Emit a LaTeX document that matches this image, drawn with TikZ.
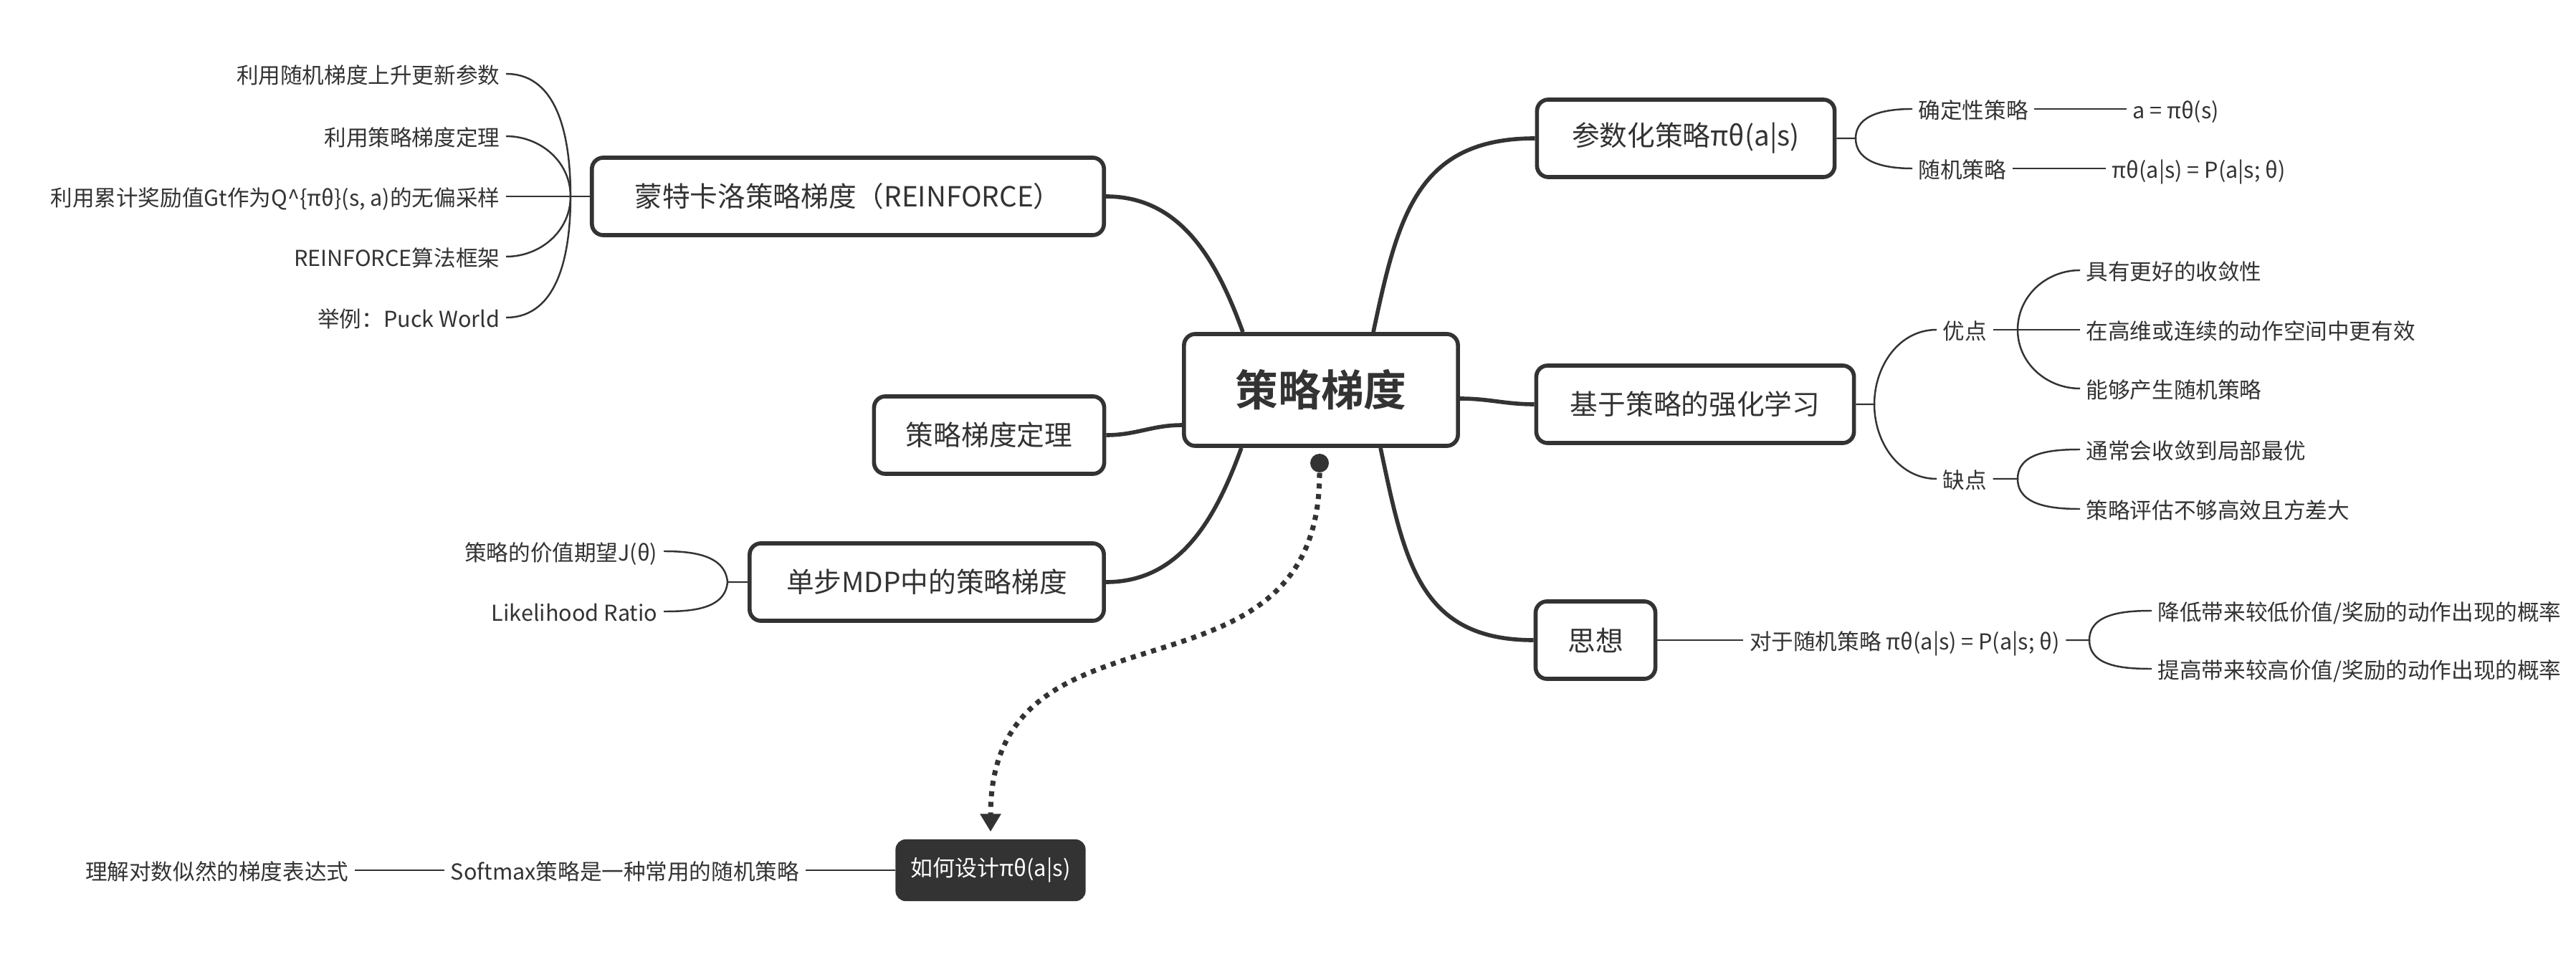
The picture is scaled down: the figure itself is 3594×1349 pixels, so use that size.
\documentclass[tikz,border=0pt]{standalone}
\usepackage{fontspec}
\setmainfont{Noto Sans CJK SC}[BoldFont={Noto Sans CJK SC Bold}]
\usepackage{tikz}
\usetikzlibrary{arrows.meta, positioning, calc}
\definecolor{ink}{HTML}{333333}

\begin{document}
\begin{tikzpicture}[x=0.01cm, y=0.01cm,
    root/.style={rectangle, draw=ink, fill=white, line width=1.6pt, rounded corners=4.5pt, minimum width=3.82cm, minimum height=1.56cm, font=\fontsize{17}{20}\selectfont\bfseries, text=ink},
    topic/.style={rectangle, draw=ink, fill=white, line width=1.6pt, rounded corners=4.5pt, minimum height=1.08cm, font=\fontsize{11}{13}\selectfont, text=ink},
    darktopic/.style={rectangle, fill=ink, rounded corners=4pt, minimum width=2.65cm, minimum height=0.86cm, font=\fontsize{8.8}{11}\selectfont, text=white},
    leaf/.style={inner xsep=0.08cm, inner ysep=0pt, text height=0.86em, text depth=0.12em, font=\fontsize{8.7}{11}\selectfont, text=ink},
    branch/.style={draw=ink, line width=1.6pt},
    twig/.style={draw=ink, line width=0.7pt},
    dotlink/.style={draw=ink, line width=2pt, dash pattern=on 2pt off 2.2pt, -{Triangle[length=0.25cm, width=0.28cm]}},
]
    \fill[white] (0,0) rectangle (3594,-1349);
    \useasboundingbox (0,0) rectangle (3594,-1349);

    \node[root] (pg) at (1843,-544) {策略梯度};
    \node[topic, minimum width=4.15cm] (param) at (2352,-193) {参数化策略πθ(a|s)};
    \node[topic, minimum width=4.43cm] (pbrl) at (2365,-564) {基于策略的强化学习};
    \node[topic, minimum width=1.67cm] (idea) at (2226,-893) {思想};
    \node[topic, minimum width=7.14cm] (mc) at (1183,-274) {蒙特卡洛策略梯度（REINFORCE）};
    \node[topic, minimum width=3.21cm] (thm) at (1380,-607) {策略梯度定理};
    \node[topic, minimum width=4.94cm] (mdp) at (1293,-812) {单步MDP中的策略梯度};
    \node[darktopic] (design) at (1382,-1214) {如何设计πθ(a|s)};

    \draw[branch] ([xshift=-1.09cm]pg.north) to[out=110, in=0] (mc.east);
    \draw[branch] ([xshift=0.73cm]pg.north) to[out=78, in=180, looseness=1.2] (param.west);
    \draw[branch] ([yshift=-0.12cm]pg.east) to[out=0, in=180] (pbrl.west);
    \draw[branch] ([yshift=-0.49cm]pg.west) to[out=180, in=0] (thm.east);
    \draw[branch] ([xshift=-1.11cm]pg.south) to[out=-110, in=0] (mdp.east);
    \draw[branch] ([xshift=0.83cm]pg.south) to[out=-78, in=180, looseness=1.2] (idea.west);

    \node[leaf, anchor=west] (det) at (2668,-152) {确定性策略};
    \node[leaf, right=1.28cm of det] (detf) {a = πθ(s)};
    \node[leaf, anchor=west] (sto) at (2668,-235) {随机策略};
    \node[leaf, right=1.3cm of sto] (stof) {πθ(a|s) = P(a|s; θ)};
    \coordinate (paramfork) at (2589,-193);
    \draw[twig] (param.east) -- (paramfork) to[out=90, in=180] (det.west);
    \draw[twig] (paramfork) to[out=-90, in=180] (sto.west);
    \draw[twig] (det) -- (detf);
    \draw[twig] (sto) -- (stof);

    \node[leaf, anchor=west] (pros) at (2702,-460) {优点};
    \node[leaf, anchor=west] (cons) at (2702,-668) {缺点};
    \coordinate (pbrlfork) at (2615,-564);
    \draw[twig] (pbrl.east) -- (pbrlfork) to[out=90, in=180] (pros.west);
    \draw[twig] (pbrlfork) to[out=-90, in=180] (cons.west);
    \node[leaf, anchor=west] (pro1) at (2902,-377) {具有更好的收敛性};
    \node[leaf, anchor=west] (pro2) at (2902,-460) {在高维或连续的动作空间中更有效};
    \node[leaf, anchor=west] (pro3) at (2902,-542) {能够产生随机策略};
    \coordinate (prosfork) at (2815,-460);
    \draw[twig] (pros.east) -- (prosfork) -- (pro2.west);
    \draw[twig] (prosfork) to[out=90, in=180] (pro1.west);
    \draw[twig] (prosfork) to[out=-90, in=180] (pro3.west);
    \node[leaf, anchor=west] (con1) at (2902,-627) {通常会收敛到局部最优};
    \node[leaf, anchor=west] (con2) at (2902,-710) {策略评估不够高效且方差大};
    \coordinate (consfork) at (2815,-668);
    \draw[twig] (cons.east) -- (consfork) to[out=90, in=180] (con1.west);
    \draw[twig] (consfork) to[out=-90, in=180] (con2.west);

    \node[leaf, right=1.2cm of idea] (ideatxt) {对于随机策略 πθ(a|s) = P(a|s; θ)};
    \draw[twig] (idea) -- (ideatxt);
    \node[leaf, anchor=west] (lower) at (3002,-852) {降低带来较低价值/奖励的动作出现的概率};
    \node[leaf, anchor=west] (raise) at (3002,-933) {提高带来较高价值/奖励的动作出现的概率};
    \coordinate (ideafork) at (2915,-893);
    \draw[twig] (ideatxt.east) -- (ideafork) to[out=90, in=180] (lower.west);
    \draw[twig] (ideafork) to[out=-90, in=180] (raise.west);

    \node[leaf, anchor=east] (mc1) at (706,-103) {利用随机梯度上升更新参数};
    \node[leaf, anchor=east] (mc2) at (706,-190) {利用策略梯度定理};
    \node[leaf, anchor=east] (mc3) at (706,-274) {利用累计奖励值Gt作为Q\textasciicircum\{πθ\}(s, a)的无偏采样};
    \node[leaf, anchor=east] (mc4) at (706,-358) {REINFORCE算法框架};
    \node[leaf, anchor=east] (mc5) at (706,-443) {举例：Puck World};
    \coordinate (mcfork) at (796,-274);
    \draw[twig] (mc.west) -- (mcfork) -- (mc3.east);
    \draw[twig] (mcfork) to[out=90, in=0] (mc1.east);
    \draw[twig] (mcfork) to[out=90, in=0] (mc2.east);
    \draw[twig] (mcfork) to[out=-90, in=0] (mc4.east);
    \draw[twig] (mcfork) to[out=-90, in=0] (mc5.east);

    \node[leaf, anchor=east] (val) at (926,-769) {策略的价值期望J(θ)};
    \node[leaf, anchor=east] (lr) at (926,-853) {Likelihood Ratio};
    \coordinate (mdpfork) at (1015,-812);
    \draw[twig] (mdp.west) -- (mdpfork) to[out=95, in=0] (val.east);
    \draw[twig] (mdpfork) to[out=-95, in=0] (lr.east);

    \node[leaf, left=1.25cm of design] (softmax) {Softmax策略是一种常用的随机策略};
    \node[leaf, left=1.25cm of softmax] (loglik) {理解对数似然的梯度表达式};
    \draw[twig] (design) -- (softmax);
    \draw[twig] (softmax) -- (loglik);

    \node[circle, fill=ink, inner sep=0pt, minimum size=0.26cm] (knob) at (1841,-646) {};
    \draw[dotlink] (knob) to[out=-90, in=90, looseness=1.3] ([yshift=0.1cm]design.north);
\end{tikzpicture}
\end{document}
